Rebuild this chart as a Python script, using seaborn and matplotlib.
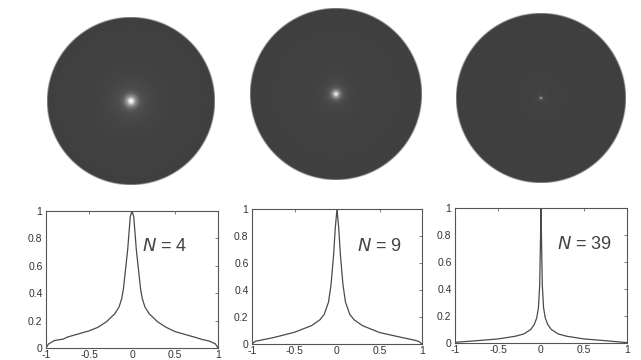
import numpy as np
import matplotlib
matplotlib.use("Agg")
import matplotlib.pyplot as plt
import seaborn as sns

# radial profiles (x across the disc diameter, value 0..1)
x_n4 = [-1, -0.97, -0.9, -0.8, -0.75, -0.5, -0.4, -0.3, -0.2, -0.15, -0.12, -0.1,
        -0.05, -0.02, 0, 0.02, 0.05, 0.1, 0.12, 0.15, 0.2, 0.3, 0.4, 0.5, 0.75,
        0.8, 0.9, 0.97, 1]
y_n4 = [0, 0.03, 0.055, 0.065, 0.08, 0.125, 0.15, 0.19, 0.25, 0.30, 0.36, 0.43,
        0.72, 0.96, 1.0, 0.96, 0.72, 0.43, 0.36, 0.30, 0.25, 0.19, 0.15, 0.12, 0.075,
        0.065, 0.05, 0.03, 0]

x_n9 = [-1, -0.96, -0.9, -0.75, -0.5, -0.3, -0.2, -0.15, -0.1, -0.07, -0.04,
        -0.02, 0, 0.02, 0.04, 0.07, 0.1, 0.15, 0.2, 0.3, 0.5, 0.75, 0.9, 0.96, 1]
y_n9 = [0, 0.02, 0.028, 0.047, 0.087, 0.136, 0.18, 0.22, 0.31, 0.44, 0.66,
        0.86, 1.0, 0.86, 0.66, 0.44, 0.31, 0.22, 0.18, 0.136, 0.085, 0.05, 0.03, 0.02, 0]

x_n39 = [-1, -0.75, -0.5, -0.3, -0.2, -0.12, -0.08, -0.05, -0.03, -0.015, -0.007,
         0, 0.007, 0.015, 0.03, 0.05, 0.08, 0.12, 0.2, 0.3, 0.5, 0.75, 1]
y_n39 = [0.005, 0.017, 0.03, 0.05, 0.067, 0.10, 0.135, 0.185, 0.26, 0.43, 0.73,
         1.0, 0.73, 0.43, 0.26, 0.185, 0.135, 0.10, 0.067, 0.05, 0.03, 0.017, 0.003]

labels = ["4", "9", "39"]
label_pos = [(0.12, 0.74), (0.24, 0.72), (0.19, 0.73)]
x_ticks = [-1, -0.5, 0, 0.5, 1]
x_ticklabels = ["-1", "-0.5", "0", "0.5", "1"]
y_ticks = [0, 0.2, 0.4, 0.6, 0.8, 1]
y_ticklabels = ["0", "0.2", "0.4", "0.6", "0.8", "1"]

sns.set_style("white")
plt.rcParams["font.family"] = ["Liberation Sans", "DejaVu Sans"]
plt.rcParams["axes.unicode_minus"] = False

W, H = 641, 360
fig = plt.figure(figsize=(W / 100, H / 100), dpi=100)
fig.patch.set_facecolor("white")

# pixel boxes (left, top, right, bottom)
line_boxes = [(46, 211, 218, 348), (252, 209, 422, 344), (455, 208, 627, 343)]
disc_boxes = [(131, 101, 84), (336, 94, 86), (541, 98, 85)]

series = [(x_n4, y_n4), (x_n9, y_n9), (x_n39, y_n39)]
ink = "#4a4a4a"
base = 0.25

for (xs, ys), lab, lpos, lb, db in zip(series, labels, label_pos, line_boxes, disc_boxes):
    # profile plot
    l, t, r, b = lb
    ax = fig.add_axes([l / W, 1 - b / H, (r - l) / W, (b - t) / H])
    sns.lineplot(x=xs, y=ys, ax=ax, color=ink, linewidth=0.9)
    ax.set_xlim(-1, 1)
    ax.set_ylim(0, 1)
    ax.set_xticks(x_ticks)
    ax.set_xticklabels(x_ticklabels)
    ax.set_yticks(y_ticks)
    ax.set_yticklabels(y_ticklabels)
    ax.tick_params(direction="in", length=2.5, width=0.6, labelsize=7.5,
                   colors="#666666", labelcolor="#333333", pad=1.5,
                   top=True, right=True)
    ax.tick_params(axis="y", pad=2.5)
    for s in ax.spines.values():
        s.set_color("#555555")
        s.set_linewidth(0.8)
    ax.text(lpos[0], lpos[1], "$N$ = " + lab, fontsize=13, color="#444444",
            va="center", ha="left")

    # disc rendered from the same radial profile
    cx, cy, rad = db
    dax = fig.add_axes([(cx - rad) / W, 1 - (cy + rad) / H, 2 * rad / W, 2 * rad / H])
    dax.axis("off")
    g = np.linspace(-1, 1, 400)
    xx, yy = np.meshgrid(g, g)
    rr = np.sqrt(xx ** 2 + yy ** 2)
    half_x = [v for v in xs if v >= 0]
    half_y = [ys[i] for i, v in enumerate(xs) if v >= 0]
    f = np.interp(rr, half_x, half_y)
    gray = base + (1 - base) * f ** 2.2
    alpha = np.clip((1 - rr) * rad * 0.7 + 0.5, 0, 1)
    img = np.dstack([gray, gray, gray, alpha])
    dax.imshow(img, extent=(-1, 1, -1, 1), aspect="auto", interpolation="bilinear")

fig.savefig("out.png", dpi=100)
